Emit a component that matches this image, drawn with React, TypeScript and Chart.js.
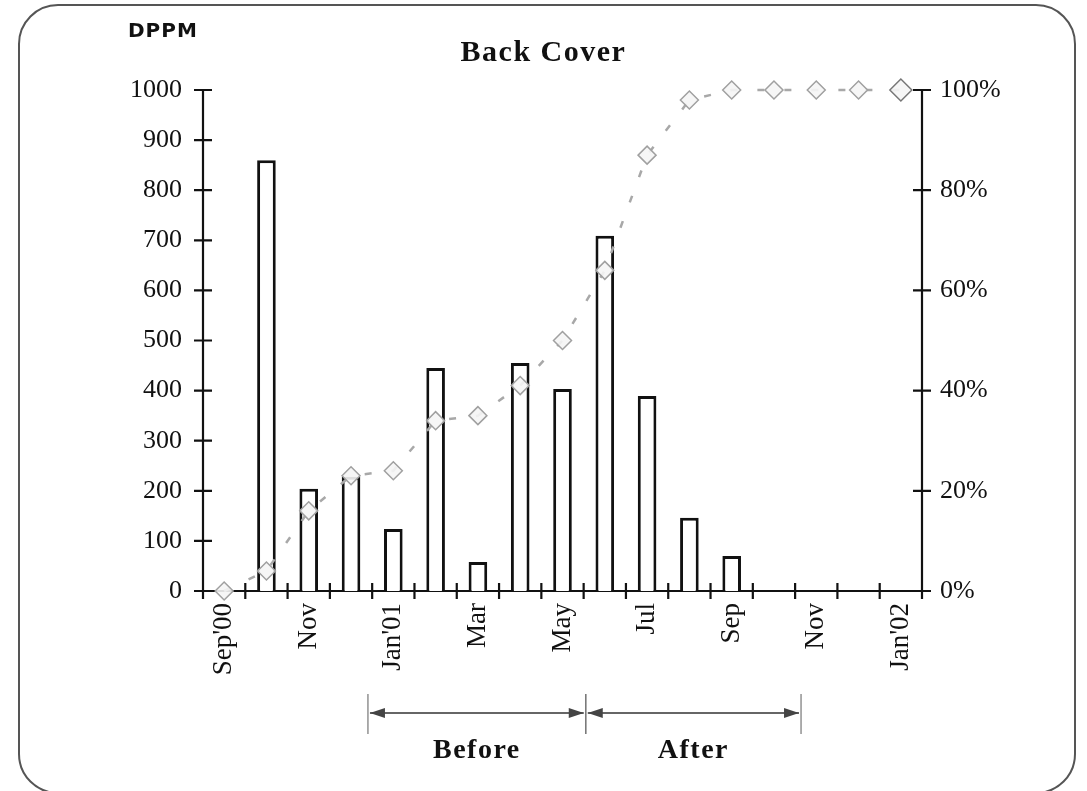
import React, { useEffect, useRef } from 'react';
import { Chart, registerables } from 'chart.js';

Chart.register(...registerables);

// Monthly categories, Sep 2000 through Jan 2002
const months = [
  "Sep'00", 'Oct', 'Nov', 'Dec', "Jan'01", 'Feb', 'Mar', 'Apr', 'May',
  'Jun', 'Jul', 'Aug', 'Sep', 'Oct', 'Nov', 'Dec', "Jan'02",
];
// Defects per million per month
const dppm = [0, 860, 204, 228, 124, 445, 58, 455, 403, 709, 389, 146, 70, 0, 0, 0, 0];
// Cumulative progress (%)
const cumulativePct = [0, 4, 16, 23, 24, 34, 35, 41, 50, 64, 87, 98, 100, 100, 100, 100, 100];
// Axis ranges
const dppmMax = 1000;
const dppmStep = 100;
const pctMax = 100;
const pctStep = 20;
// Before / after improvement periods, in category units
const periods = [
  { label: 'Before', from: 3.4, to: 8.55 },
  { label: 'After', from: 8.55, to: 13.64 },
];

const SERIF = "'Liberation Serif', 'Times New Roman', serif";

const axesPlugin = {
  id: 'crossAxes',
  beforeDatasetsDraw(chart: any) {
    const { ctx, scales } = chart;
    const x = scales.x;
    const y = scales.y;
    const y1 = scales.y1;
    const left = x.left;
    const right = x.right;
    const top = y.getPixelForValue(dppmMax);
    const bottom = y.getPixelForValue(0);
    ctx.save();
    ctx.strokeStyle = '#111';
    ctx.lineWidth = 2.2;
    ctx.beginPath();
    ctx.moveTo(left, top);
    ctx.lineTo(left, bottom);
    ctx.moveTo(left - 9, bottom);
    ctx.lineTo(right + 9, bottom);
    ctx.moveTo(right, top);
    ctx.lineTo(right, bottom);
    for (let v = 0; v <= dppmMax; v += dppmStep) {
      const py = y.getPixelForValue(v);
      ctx.moveTo(left - 9, py);
      ctx.lineTo(left + 9, py);
    }
    for (let v = 0; v <= pctMax; v += pctStep) {
      const py = y1.getPixelForValue(v);
      ctx.moveTo(right - 9, py);
      ctx.lineTo(right + 9, py);
    }
    for (let i = 0; i <= months.length; i++) {
      const px = x.getPixelForValue(i - 0.5);
      ctx.moveTo(px, bottom - 8);
      ctx.lineTo(px, bottom + 8);
    }
    ctx.stroke();
    ctx.restore();
  },
};

const textPlugin = {
  id: 'annotations',
  afterDraw(chart: any) {
    const { ctx, scales, width } = chart;
    const x = scales.x;
    ctx.save();
    ctx.fillStyle = '#111';
    ctx.textBaseline = 'alphabetic';

    // Chart title
    ctx.font = `bold 30px ${SERIF}`;
    (ctx as any).letterSpacing = '1.5px';
    ctx.textAlign = 'center';
    ctx.fillText('Back Cover', width / 2, 61);

    // Left axis unit
    ctx.font = "bold 20px 'DejaVu Sans', 'Liberation Sans', sans-serif";
    (ctx as any).letterSpacing = '1px';
    ctx.textAlign = 'left';
    ctx.fillText('DPPM', 128, 37);

    // Period markers
    const yLine = 713;
    periods.forEach((p) => {
      const x0 = x.getPixelForValue(p.from);
      const x1 = x.getPixelForValue(p.to);
      ctx.strokeStyle = '#777';
      ctx.lineWidth = 1.2;
      ctx.beginPath();
      ctx.moveTo(x0, 694);
      ctx.lineTo(x0, 734);
      ctx.moveTo(x1, 694);
      ctx.lineTo(x1, 734);
      ctx.stroke();
      ctx.strokeStyle = '#333';
      ctx.lineWidth = 1.5;
      ctx.beginPath();
      ctx.moveTo(x0 + 2, yLine);
      ctx.lineTo(x1 - 2, yLine);
      ctx.stroke();
      ctx.fillStyle = '#444';
      ctx.beginPath();
      ctx.moveTo(x0 + 2, yLine);
      ctx.lineTo(x0 + 17, yLine - 5);
      ctx.lineTo(x0 + 17, yLine + 5);
      ctx.closePath();
      ctx.moveTo(x1 - 2, yLine);
      ctx.lineTo(x1 - 17, yLine - 5);
      ctx.lineTo(x1 - 17, yLine + 5);
      ctx.closePath();
      ctx.fill();
      ctx.fillStyle = '#111';
      ctx.font = `bold 28px ${SERIF}`;
      (ctx as any).letterSpacing = '1.5px';
      ctx.textAlign = 'center';
      ctx.fillText(p.label, (x0 + x1) / 2, 758);
    });
    ctx.restore();
  },
};

export default function App() {
  const canvasRef = useRef<HTMLCanvasElement | null>(null);

  useEffect(() => {
    const canvas = canvasRef.current;
    if (!canvas) return;
    const last = months.length - 1;
    const chart = new Chart(canvas, {
      data: {
        labels: months,
        datasets: [
          {
            type: 'line',
            label: 'Cumulative',
            data: cumulativePct,
            yAxisID: 'y1',
            order: 0,
            borderColor: '#a8a8a8',
            borderWidth: 2.5,
            borderDash: [7, 20],
            pointStyle: 'rectRot',
            pointRadius: cumulativePct.map((_, i) => (i === last ? 11 : 9)),
            pointBorderWidth: 1.5,
            pointBorderColor: cumulativePct.map((_, i) => (i === last ? '#777' : '#a0a0a0')),
            pointBackgroundColor: 'rgba(245,245,245,0.9)',
            clip: false as any,
            tension: 0,
          } as any,
          {
            type: 'bar',
            label: 'DPPM',
            data: dppm,
            yAxisID: 'y',
            order: 1,
            backgroundColor: '#ffffff',
            borderColor: '#111',
            borderWidth: 3,
            categoryPercentage: 1,
            barPercentage: 0.44,
          } as any,
        ],
      },
      options: {
        animation: false,
        responsive: false,
        maintainAspectRatio: false,
        layout: { padding: { top: 90, left: 0, right: 0, bottom: 0 } },
        plugins: {
          legend: { display: false },
          tooltip: { enabled: false },
          title: { display: false },
        },
        scales: {
          x: {
            type: 'category',
            offset: true,
            grid: { display: false, drawTicks: false },
            border: { display: false },
            ticks: {
              autoSkip: false,
              minRotation: 90,
              maxRotation: 90,
              padding: 12,
              color: '#111',
              font: { family: SERIF, size: 27 },
              callback: (_v: any, i: number) => (i % 2 === 0 ? months[i] : ''),
            },
            afterFit: (s: any) => {
              s.height = 200;
            },
          },
          y: {
            position: 'left',
            min: 0,
            max: dppmMax,
            grid: { display: false, drawTicks: false },
            border: { display: false },
            ticks: {
              stepSize: dppmStep,
              padding: 21,
              color: '#111',
              font: { family: SERIF, size: 26 },
              callback: (v: any) => String(v),
            },
            afterFit: (s: any) => {
              s.width = 203;
            },
          },
          y1: {
            position: 'right',
            min: 0,
            max: pctMax,
            grid: { display: false, drawTicks: false },
            border: { display: false },
            ticks: {
              stepSize: pctStep,
              padding: 18,
              color: '#111',
              font: { family: SERIF, size: 26 },
              callback: (v: any) => `${v}%`,
            },
            afterFit: (s: any) => {
              s.width = 165;
            },
          },
        },
      } as any,
      plugins: [axesPlugin, textPlugin],
    });
    return () => chart.destroy();
  }, []);

  return (
    <div
      style={{
        position: 'fixed',
        left: 0,
        top: 0,
        width: 1087,
        height: 791,
        background: '#fff',
        overflow: 'hidden',
      }}
    >
      <div
        style={{
          position: 'absolute',
          left: 18,
          top: 4,
          width: 1058,
          height: 790,
          border: '2px solid #555',
          borderRadius: 40,
          boxSizing: 'border-box',
        }}
      />
      <canvas
        ref={canvasRef}
        width={1087}
        height={791}
        style={{ position: 'absolute', left: 0, top: 0, width: 1087, height: 791 }}
      />
    </div>
  );
}
